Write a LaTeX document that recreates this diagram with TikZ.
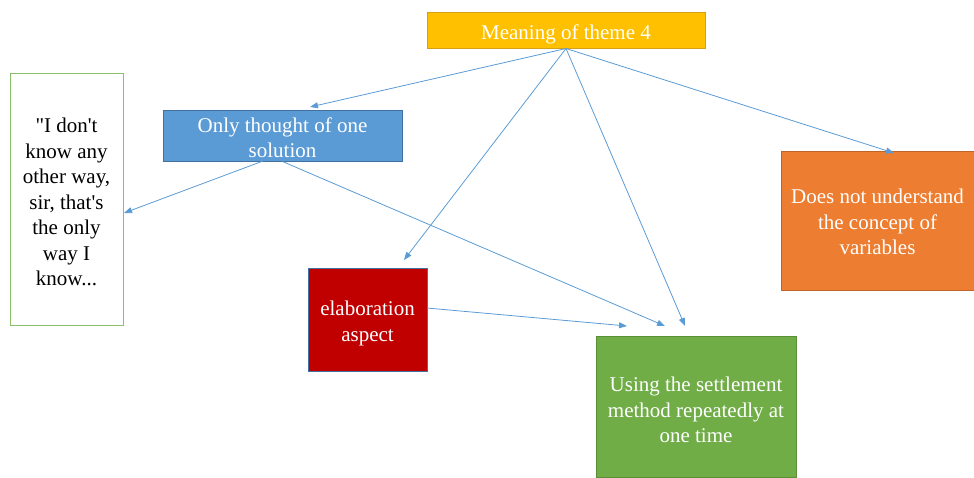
\documentclass[tikz,border=0pt]{standalone}
\usepackage{fontspec}
\setmainfont{Liberation Serif}
\usetikzlibrary{arrows.meta}
\definecolor{linkblue}{HTML}{5B9BD5}
\definecolor{gold}{HTML}{FFC000}
\definecolor{goldedge}{HTML}{D4A017}
\definecolor{steel}{HTML}{5B9BD5}
\definecolor{steeledge}{HTML}{41719C}
\definecolor{darkred}{HTML}{C00000}
\definecolor{orng}{HTML}{ED7D31}
\definecolor{orngedge}{HTML}{C0652A}
\definecolor{leaf}{HTML}{70AD47}
\definecolor{leafedge}{HTML}{5A8F38}
\definecolor{leaflight}{HTML}{8CC068}
\tikzset{
  box/.style={draw, line width=1pt, inner sep=0pt},
  txt/.style={inner sep=0pt, align=center,
    font=\fontsize{21}{25.5}\selectfont, text=white},
  link/.style={draw=linkblue, line width=0.8pt,
    -{Triangle[length=8pt,width=6pt]}}
}
\begin{document}
\begin{tikzpicture}[x=1pt,y=-1pt]
\useasboundingbox (0,0) rectangle (974,477);

% boxes
\node[box, fill=gold, draw=goldedge, minimum width=278pt, minimum height=36pt]
  (top) at (566,30) {};
\node[box, fill=steel, draw=steeledge, minimum width=239pt, minimum height=51pt]
  (only) at (282.5,135.5) {};
\node[box, fill=white, draw=leaflight, minimum width=113pt, minimum height=252pt]
  (quote) at (66.5,199) {};
\node[box, fill=darkred, draw=steeledge, minimum width=119pt, minimum height=103pt]
  (elab) at (367.5,319.5) {};
\node[box, fill=orng, draw=orngedge, minimum width=193pt, minimum height=139pt]
  (vars) at (877.5,220.5) {};
\node[box, fill=leaf, draw=leafedge, minimum width=200pt, minimum height=141pt]
  (settle) at (696,406.5) {};

% box texts, set a little below each centre
\node[txt] (toptext) at ([yshift=-4pt]top.center) {Meaning of theme 4};
\node[txt] (onlytext) at ([yshift=-2pt]only.center) {Only thought of one\\solution};
\node[txt, text=black] (quotetext) at ([yshift=-3pt]quote.center)
  {\textquotedbl I don\textquotesingle t\\know any\\other way,\\sir, that\textquotesingle s\\the only\\way I\\know...};
\node[txt] (elabtext) at ([yshift=-4pt]elab.center) {elaboration\\aspect};
\node[txt] (varstext) at ([yshift=-1.5pt]vars.center) {Does not understand\\the concept of\\variables};
\node[txt] (settletext) at ([yshift=-3.5pt]settle.center) {Using the settlement\\method repeatedly at\\one time};

% arrow tips that stop short of their boxes
\coordinate (onlytip) at (310,107);
\coordinate (elabtip) at (404,260);
\coordinate (settletipA) at (685,326);
\coordinate (settletipB) at (665,326);
\coordinate (settletipC) at (627,326);
\coordinate (varstip) at (894,153);
\coordinate (quotetip) at (124,213);
\coordinate (onlyfootA) at (263,161);
\coordinate (elabside) at (427,308);

% connectors
\draw[link] (top.south) -- (onlytip);
\draw[link] (top.south) -- (elabtip);
\draw[link] (top.south) -- (settletipA);
\draw[link] (top.south) -- (varstip);
\draw[link] (onlyfootA) -- (quotetip);
\draw[link] (only.south) -- (settletipB);
\draw[link] (elabside) -- (settletipC);
\end{tikzpicture}
\end{document}
